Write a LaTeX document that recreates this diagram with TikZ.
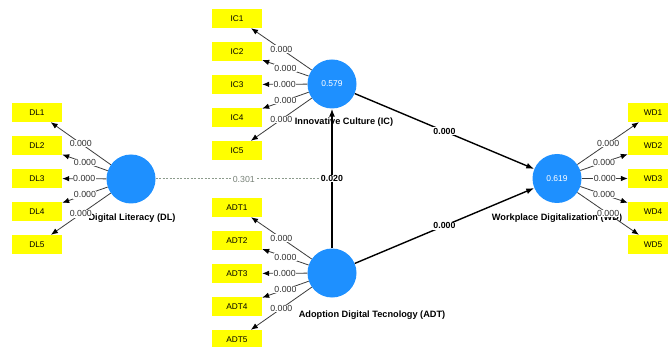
\documentclass[tikz,border=0pt]{standalone}
\usepackage{fontspec}
\setmainfont{Liberation Sans}
\usetikzlibrary{arrows.meta}
\definecolor{plsblue}{RGB}{30,144,255}
\definecolor{indyellow}{RGB}{255,255,0}
\definecolor{measgray}{RGB}{60,60,60}
\definecolor{modgray}{RGB}{140,155,140}
\definecolor{modtext}{RGB}{120,130,120}
\begin{document}
\begin{tikzpicture}[x=1pt,y=-1pt,
  lv/.style={circle, fill=plsblue, minimum size=49pt, inner sep=0pt, text=white, font=\fontsize{8.5}{9}\selectfont},
  ind/.style={rectangle, fill=indyellow, minimum width=50pt, minimum height=19pt, inner sep=0pt, font=\fontsize{8.3}{9}\selectfont},
  meas/.style={draw=measgray, line width=0.8pt, -{Latex[length=7pt,width=5.5pt,color=black]}},
  mlab/.style={fill=white, inner sep=0.5pt, text=measgray!80!black, font=\fontsize{8.8}{9}\selectfont},
  struct/.style={draw=black, line width=1.4pt, -{Latex[length=8pt,width=6pt]}},
  slab/.style={fill=white, inner sep=0.8pt, font=\bfseries\fontsize{8.8}{9}\selectfont},
  lvlab/.style={inner sep=0pt, font=\bfseries\fontsize{9.2}{10}\selectfont},
  modline/.style={draw=modgray, line width=1pt, dash pattern=on 2pt off 1.5pt},
  modlab/.style={fill=white, inner sep=0.8pt, text=modtext, font=\fontsize{8.8}{9}\selectfont}
]
\fill[white] (0,0) rectangle (668,347);
\useasboundingbox (0,0) rectangle (668,347);
\clip (0,0) rectangle (668,347);

% latent variables
\node[lv] (DL) at (131,179) {};
\node[lv] (IC) at (332,84) {0.579};
\node[lv] (ADT) at (332,273) {};
\node[lv] (WD) at (557,178.5) {0.619};

% latent labels
\node[lvlab] (DLl) at (132,218) {Digital Literacy (DL)};
\node[lvlab] (ICl) at (344,122) {Innovative Culture (IC)};
\node[lvlab] (ADTl) at (372,315) {Adoption Digital Tecnology (ADT)};
\node[lvlab] (WDl) at (557,218) {Workplace Digitalization (WD)};

% indicators
\foreach \i/\y in {1/112.5,2/145.5,3/178.5,4/211.5,5/244.5}{
  \node[ind] (DL\i) at (37,\y) {DL\i};
  \draw[meas] (DL) -- (DL\i) node[midway,mlab] {0.000};
}
\foreach \i/\y in {1/18.5,2/51.5,3/84.5,4/117.5,5/150.5}{
  \node[ind] (IC\i) at (237,\y) {IC\i};
  \draw[meas] (IC) -- (IC\i) node[midway,mlab] {0.000};
}
\foreach \i/\y in {1/207.5,2/240.5,3/273.5,4/306.5,5/339.5}{
  \node[ind] (ADT\i) at (237,\y) {ADT\i};
  \draw[meas] (ADT) -- (ADT\i) node[midway,mlab] {0.000};
}
\foreach \i/\y in {1/112.5,2/145.5,3/178.5,4/211.5,5/244.5}{
  \node[ind] (WD\i) at (653,\y) {WD\i};
  \draw[meas] (WD) -- (WD\i) node[midway,mlab] {0.000};
}

% moderation
\coordinate (mod) at (332,179);
\draw[modline] (DL) -- (mod) node[midway,modlab] {0.301};

% structural paths
\draw[struct] (IC) -- (WD) node[midway,slab] {0.000};
\draw[struct] (ADT) -- (WD) node[midway,slab] {0.000};
\draw[struct] (ADT) -- (IC) node[midway,slab] {0.020};
\end{tikzpicture}
\end{document}
